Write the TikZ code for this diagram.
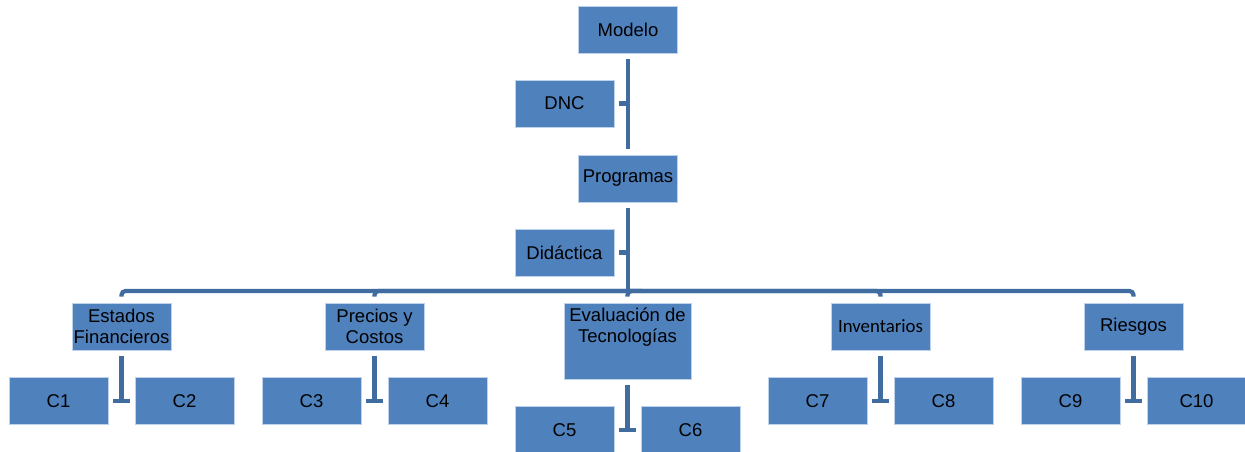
\documentclass[tikz,border=0pt]{standalone}
\usepackage{fontspec}
\setmainfont{Liberation Sans}
\newfontfamily\calfont{Carlito}
\definecolor{boxfill}{RGB}{79,129,189}
\definecolor{boxline}{RGB}{190,210,235}
\definecolor{connc}{RGB}{65,108,160}
\begin{document}
\begin{tikzpicture}[x=1pt,y=-1pt,
  box/.style={fill=boxfill,draw=boxline,line width=0.8pt,minimum width=99pt,minimum height=47pt,inner sep=1pt,align=center,font=\fontsize{18.5}{21}\selectfont},
  conn/.style={draw=connc,line width=4.2pt}]
\useasboundingbox (0,0) rectangle (1245,452);
\node[box] (modelo) at (628,29.5) {Modelo};
\node[box] (dnc) at (564.5,103.5) {DNC};
\node[box] (prog) at (628,178.5) {Programas};
\node[box] (did) at (564.5,252.5) {Didáctica};
\node[box] (ef) at (121.5,326.5) {Estados\\Financieros};
\node[box] (pc) at (374.5,326.5) {Precios y\\Costos};
\node[box,minimum width=127pt,minimum height=76pt] (ev) at (627.5,341) {};
\node[anchor=north,align=center,inner sep=0pt,font=\fontsize{18.5}{21}\selectfont] (evt) at ([yshift=-5pt]ev.north) {Evaluación de\\Tecnologías};
\node[box,font=\calfont\fontsize{18.8}{21}\selectfont] (inv) at (880.5,326.5) {Inventarios};
\node[box] (rie) at (1133.5,326.5) {Riesgos};
\node[box] (c1) at (58.5,401) {C1};
\node[box] (c2) at (184.5,401) {C2};
\node[box] (c3) at (311.5,401) {C3};
\node[box] (c4) at (437.5,401) {C4};
\node[box] (c5) at (564.5,430) {C5};
\node[box] (c6) at (690.5,430) {C6};
\node[box] (c7) at (817.5,401) {C7};
\node[box] (c8) at (943.5,401) {C8};
\node[box] (c9) at (1070.5,401) {C9};
\node[box] (c10) at (1196.5,401) {C10};
% top chain
\draw[conn] ([yshift=-6pt]modelo.south) -- ([yshift=6pt]prog.north);
\draw[conn] ([xshift=5pt]dnc.east) -- (dnc.east -| modelo.south);
\coordinate (bar) at (628,291);
\draw[conn] ([yshift=-6pt]prog.south) -- ([yshift=-2pt]bar);
\draw[conn] ([xshift=5pt]did.east) -- (did.east -| prog.south);
\foreach \n in {ef,pc,ev,inv,rie}{
  \draw[conn,rounded corners=4pt] (bar) -| ([yshift=6pt]\n.north);
}
% children
\foreach \p/\a/\b in {ef/c1/c2,pc/c3/c4,ev/c5/c6,inv/c7/c8,rie/c9/c10}{
  \draw[conn] ([yshift=-6pt]\p.south) -- ([yshift=-2pt]\p.south |- \a.east);
  \draw[conn] ([xshift=5pt]\a.east) -- ([xshift=-5pt]\b.west);
}
\end{tikzpicture}
\end{document}
